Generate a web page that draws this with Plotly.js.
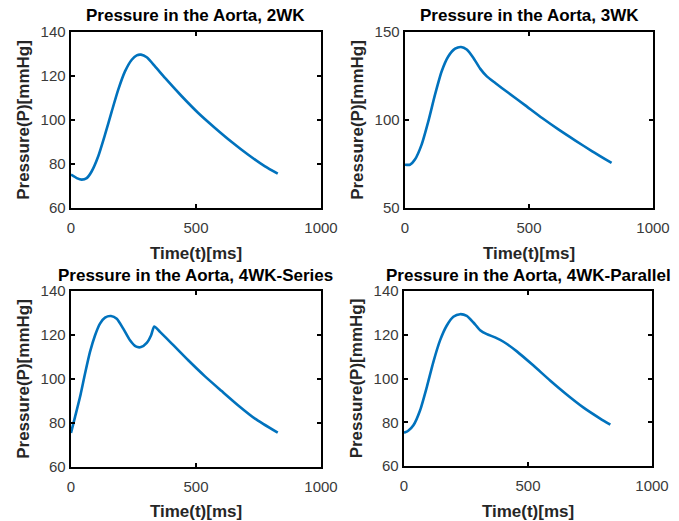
<!DOCTYPE html>
<html>
<head>
<meta charset="utf-8">
<script src="https://cdn.plot.ly/plotly-3.0.1.min.js"></script>
<style>html,body{margin:0;padding:0;background:#fff;}#chart{width:679px;height:521px;}</style>
</head>
<body>
<div id="chart"></div>
<script>
// ---- data ----
const titles = ["Pressure in the Aorta, 2WK", "Pressure in the Aorta, 3WK",
                "Pressure in the Aorta, 4WK-Series", "Pressure in the Aorta, 4WK-Parallel"];
const xLabel = "Time(t)[ms]";
const yLabel = "Pressure(P)[mmHg]";

const t2WK = [0, 23, 43, 63, 83, 109, 136, 163, 189, 216, 243, 263, 280, 303, 336, 376, 443, 509, 576, 643, 709, 776, 827];
const p2WK = [75.2, 73.6, 72.9, 73.6, 76.7, 83.5, 93.3, 103.9, 113.8, 122.1, 127.4, 129.4, 129.7, 128.5, 124.4, 119.1, 110.8, 103.2, 96.4, 90.0, 84.2, 78.9, 75.6];

const t3WK = [0, 20, 40, 67, 94, 121, 148, 175, 202, 226, 249, 276, 303, 330, 364, 418, 485, 553, 620, 687, 755, 833];
const p3WK = [74.6, 74.6, 77.5, 86.0, 99.2, 114.4, 127.7, 136.2, 140.5, 141.5, 140.0, 135.2, 129.2, 124.8, 121.0, 115.3, 108.3, 101.1, 94.5, 88.3, 82.2, 75.6];

const t4WKS = [0, 16, 36, 56, 76, 96, 116, 136, 160, 183, 209, 236, 259, 280, 303, 320, 333, 356, 403, 469, 536, 603, 669, 736, 827];
const p4WKS = [75.5, 82.7, 91.8, 102.4, 112.3, 119.8, 125.2, 127.9, 128.6, 127.4, 122.9, 117.6, 114.8, 114.5, 116.4, 119.8, 123.9, 121.4, 116.1, 108.5, 101.2, 94.5, 88.0, 82.0, 75.6];

const t4WKP = [0, 17, 38, 65, 92, 118, 145, 172, 199, 226, 253, 280, 307, 334, 367, 401, 455, 522, 589, 657, 724, 791, 832];
const p4WKP = [75.2, 76.1, 78.6, 85.5, 96.1, 107.4, 117.3, 124.1, 128.2, 129.4, 128.6, 125.6, 122.1, 120.3, 118.8, 116.8, 112.4, 105.9, 99.1, 92.6, 86.7, 81.7, 78.9];

const xTicks = [0, 500, 1000];
const yTicksA = [60, 80, 100, 120, 140];
const yTicksB = [50, 100, 150];

// ---- layout helpers ----
const W = 679, H = 521;
const px = v => v / W;
const py = v => 1 - v / H;
const boxes = [
  {l: 71, r: 321, t: 32, b: 208},
  {l: 405, r: 653, t: 32, b: 208},
  {l: 71, r: 321, t: 291, b: 467},
  {l: 404, r: 652, t: 291, b: 466}
];
const series = [[t2WK, p2WK], [t3WK, p3WK], [t4WKS, p4WKS], [t4WKP, p4WKP]];
const yRanges = [[60, 140], [50, 150], [60, 140], [60, 140]];
const yTicks = [yTicksA, yTicksB, yTicksA, yTicksA];

const FONT = "Liberation Sans, Arial, sans-serif";
const data = [];
const layout = {
  width: W, height: H,
  margin: {l: 0, r: 0, t: 0, b: 0},
  paper_bgcolor: "#fff", plot_bgcolor: "#fff",
  showlegend: false,
  font: {family: FONT, color: "#262626"},
  annotations: []
};

boxes.forEach((b, i) => {
  const n = i === 0 ? "" : String(i + 1);
  data.push({
    x: series[i][0], y: series[i][1],
    xaxis: "x" + n, yaxis: "y" + n,
    type: "scatter", mode: "lines",
    line: {color: "#0072BD", width: 2.6, shape: "spline", smoothing: 0.6},
    hoverinfo: "skip"
  });
  const axCommon = {
    showline: true, linecolor: "#000", linewidth: 2.4, mirror: "ticks",
    ticks: "inside", ticklen: 4, tickwidth: 2, tickcolor: "#000",
    showgrid: false, zeroline: false, fixedrange: true,
    tickfont: {family: FONT, size: 15, color: "#3a3a3a"}
  };
  layout["xaxis" + n] = Object.assign({}, axCommon, {
    domain: [px(b.l), px(b.r)], anchor: "y" + n,
    range: [0, 1000], tickmode: "array", tickvals: xTicks,
    ticklabelstandoff: 5,
    title: {text: xLabel, font: {family: FONT, size: 17, color: "#262626", weight: "bold"}, standoff: 12}
  });
  layout["yaxis" + n] = Object.assign({}, axCommon, {
    domain: [py(b.b), py(b.t)], anchor: "x" + n,
    range: yRanges[i], tickmode: "array", tickvals: yTicks[i],
    title: {text: yLabel, font: {family: FONT, size: 17, color: "#262626", weight: "bold"}, standoff: 7}
  });
  layout.annotations.push({
    text: "<b>" + titles[i] + "</b>",
    xref: "paper", yref: "paper",
    x: px((b.l + b.r) / 2), y: py(b.t - 16),
    xanchor: "center", yanchor: "middle", showarrow: false,
    font: {family: FONT, size: 17, color: "#000"}
  });
});

Plotly.newPlot("chart", data, layout, {staticPlot: true, displayModeBar: false});
</script>
</body>
</html>
